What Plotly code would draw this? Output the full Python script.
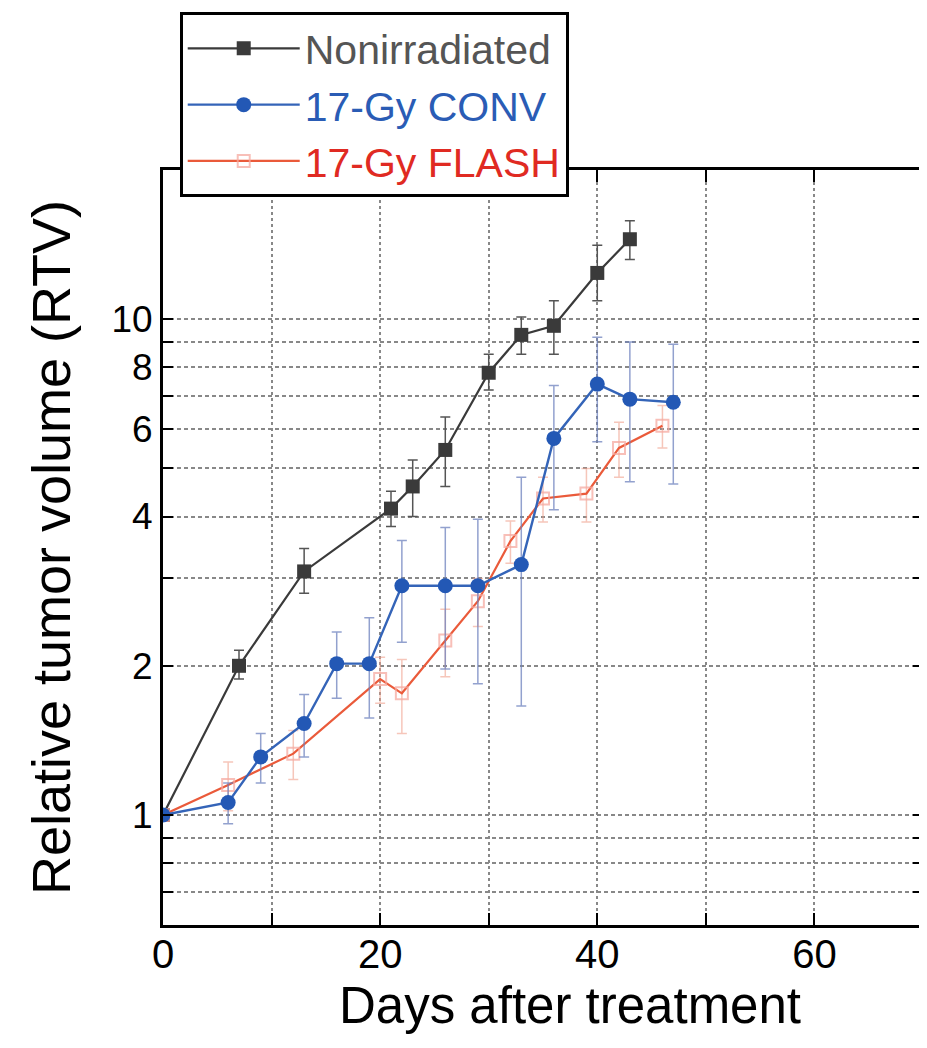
import plotly.graph_objects as go

# ---- data ----
non_days = [0, 7, 13, 21, 23, 26, 30, 33, 36, 40, 43]
non_rtv = [1.0, 2.0, 3.1, 4.15, 4.6, 5.45, 7.8, 9.3, 9.7, 12.4, 14.5]
non_err_plus = [0, 0.15, 0.35, 0.35, 0.6, 0.9, 0.7, 0.8, 1.2, 1.7, 1.3]
non_err_minus = [0, 0.12, 0.3, 0.33, 0.6, 0.85, 0.6, 0.8, 1.2, 1.5, 1.3]

conv_days = [0, 6, 9, 13, 16, 19, 22, 26, 29, 33, 36, 40, 43, 47]
conv_rtv = [1.0, 1.06, 1.31, 1.53, 2.02, 2.02, 2.9, 2.9, 2.9, 3.2, 5.75, 7.4, 6.9, 6.8]
conv_err_plus = [0, 0.1, 0.15, 0.22, 0.32, 0.48, 0.68, 0.9, 1.05, 1.6, 1.6, 1.8, 2.1, 2.1]
conv_err_minus = [0, 0.1, 0.15, 0.22, 0.3, 0.45, 0.67, 0.93, 1.06, 1.54, 1.62, 1.74, 2.2, 2.15]

flash_days = [0, 6, 12, 20, 22, 26, 29, 32, 35, 39, 42, 46]
flash_rtv = [1.0, 1.15, 1.33, 1.88, 1.76, 2.25, 2.7, 3.57, 4.35, 4.45, 5.5, 6.1]
flash_err = [0, 0.13, 0.15, 0.2, 0.3, 0.35, 0.3, 0.35, 0.45, 0.55, 0.7, 0.6]

y_tick_vals = [0.7, 0.8, 0.9, 1, 2, 3, 4, 5, 6, 7, 8, 9, 10]
y_tick_text = ["", "", "", "1", "2", "", "4", "", "6", "", "8", "", "10"]
x_tick_vals = [0, 10, 20, 30, 40, 50, 60, 70]
x_tick_text = ["0", "", "20", "", "40", "", "60", ""]

SANS = "Liberation Sans, Arial, Helvetica, sans-serif"

fig = go.Figure()

fig.add_trace(go.Scatter(
    x=non_days, y=non_rtv, mode="lines+markers",
    name="<span style='color:#555555'>Nonirradiated</span>",
    legendrank=1,
    line=dict(color="#3a3a3a", width=2.2),
    marker=dict(symbol="square", size=14, color="#3a3a3a"),
    error_y=dict(type="data", array=non_err_plus, arrayminus=non_err_minus,
                 color="#555555", thickness=1.5, width=5),
))

fig.add_trace(go.Scatter(
    x=flash_days, y=flash_rtv, mode="lines+markers",
    name="<span style='color:#e02a22'>17-Gy FLASH</span>",
    legendrank=3,
    line=dict(color="#ea5a3a", width=2.2),
    marker=dict(symbol="square-open", size=12, color="rgba(245,170,160,0.75)",
                line=dict(width=2)),
    error_y=dict(type="data", array=flash_err, color="rgba(240,160,140,0.6)",
                 thickness=1.5, width=5),
))

fig.add_trace(go.Scatter(
    x=conv_days, y=conv_rtv, mode="lines+markers",
    name="<span style='color:#2a5cb5'>17-Gy CONV</span>",
    legendrank=2,
    line=dict(color="#3464b8", width=2.4),
    marker=dict(symbol="circle", size=15, color="#2358b5"),
    error_y=dict(type="data", array=conv_err_plus, arrayminus=conv_err_minus,
                 color="rgba(110,130,190,0.75)", thickness=1.5, width=5),
))

fig.update_layout(
    width=919, height=1040,
    margin=dict(l=155, r=4, t=160, b=123),
    paper_bgcolor="white", plot_bgcolor="white",
    showlegend=True,
    legend=dict(
        x=0.022, y=1.209, xanchor="left", yanchor="top",
        bgcolor="white", bordercolor="black", borderwidth=3,
        font=dict(family=SANS, size=41),
        itemwidth=112, tracegroupgap=0,
    ),
    annotations=[dict(
        text="Days after treatment", xref="paper", yref="paper",
        x=0.536, y=-0.106, xanchor="center", yanchor="middle",
        showarrow=False, font=dict(family=SANS, size=51, color="black"),
    )],
)

fig.update_xaxes(
    range=[0, 70], automargin=False,
    tickmode="array", tickvals=x_tick_vals, ticktext=x_tick_text,
    ticks="inside", ticklen=12, tickwidth=2, tickcolor="black",
    showline=True, linecolor="black", linewidth=3, mirror="ticks",
    showgrid=True, gridcolor="#888888", gridwidth=1.5, griddash="dot",
    zeroline=False, ticklabelstandoff=-8,
    tickfont=dict(family=SANS, size=40, color="black"),
)

fig.update_yaxes(
    type="log", range=[-0.2218, 1.30103], automargin=False,
    tickmode="array", tickvals=y_tick_vals, ticktext=y_tick_text,
    ticks="inside", ticklen=10, tickwidth=2, tickcolor="black",
    showline=True, linecolor="black", linewidth=3, mirror="ticks",
    showgrid=True, gridcolor="#888888", gridwidth=1.5, griddash="4px,3px",
    zeroline=False,
    tickfont=dict(family=SANS, size=37, color="black"),
    title=dict(text="Relative tumor volume (RTV)", font=dict(family=SANS, size=54, color="black"),
               standoff=24),
)

fig.write_html("out.html")
